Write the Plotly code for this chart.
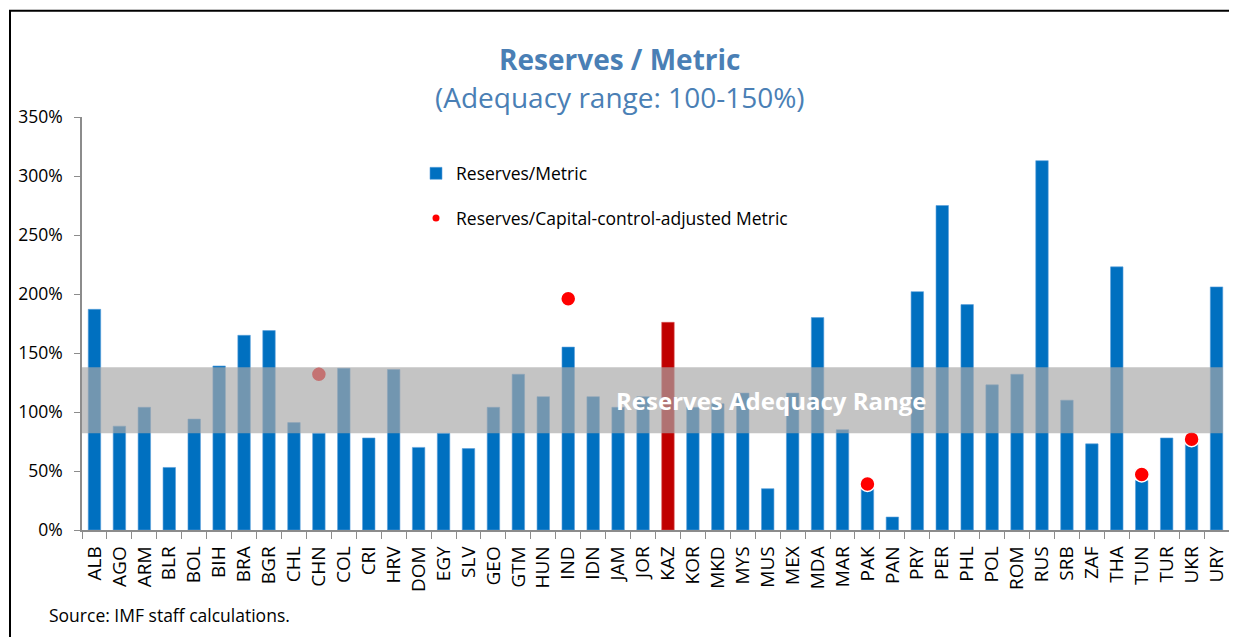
import plotly.graph_objects as go

countries = ["ALB", "AGO", "ARM", "BLR", "BOL", "BIH", "BRA", "BGR", "CHL", "CHN",
             "COL", "CRI", "HRV", "DOM", "EGY", "SLV", "GEO", "GTM", "HUN", "IND",
             "IDN", "JAM", "JOR", "KAZ", "KOR", "MKD", "MYS", "MUS", "MEX", "MDA",
             "MAR", "PAK", "PAN", "PRY", "PER", "PHL", "POL", "ROM", "RUS", "SRB",
             "ZAF", "THA", "TUN", "TUR", "UKR", "URY"]
reserves_metric = [187, 88, 104, 53, 94, 139, 165, 169, 91, 82,
                   137, 78, 136, 70, 82, 69, 104, 132, 113, 155,
                   113, 104, 113, 176, 104, 107, 116, 35, 116, 180,
                   85, 35, 11, 202, 275, 191, 123, 132, 313, 110,
                   73, 223, 42, 78, 74, 206]
adj_countries = ["CHN", "IND", "PAK", "TUN", "UKR"]
adj_values = [132, 196, 39, 47, 77]
highlight = "KAZ"
band_low, band_high = 82, 138

# the page body adds an 8px margin; work in page pixels and subtract it
OFF = 8
W, H = 1237 - OFF, 637 - OFF
L, R, T, B = 82 - OFF, W - (1229 - OFF), 116.5 - OFF, H - (530 - OFF)
PW, PH = W - L - R, H - T - B


def px_x(p):
    return (p - OFF - L) / PW


def px_y(p):
    return (H - B - (p - OFF)) / PH


bar_colors = ["#c00000" if c == highlight else "#0070c0" for c in countries]
edge_colors = ["#d85050" if c == highlight else "#5aa0dc" for c in countries]

fig = go.Figure()
fig.add_trace(go.Bar(
    x=countries, y=reserves_metric, name="Reserves/Metric",
    marker=dict(color=bar_colors, line=dict(color=edge_colors, width=0.6)),
    legendgroup="a",
))
fig.add_trace(go.Scatter(
    x=adj_countries, y=adj_values, mode="markers",
    name="Reserves/Capital-control-adjusted Metric",
    marker=dict(color="#ff0000", size=15, line=dict(color="white", width=1.5)),
    legendgroup="b", showlegend=False,
))
# legend proxy with the small legend dot
fig.add_trace(go.Scatter(
    x=[adj_countries[0]], y=[None], mode="markers",
    name="Reserves/Capital-control-adjusted Metric",
    marker=dict(color="#ff0000", size=7), legendgroup="b",
))

fig.add_shape(type="rect", xref="paper", yref="y", x0=0, x1=px_x(1223),
              y0=band_low, y1=band_high, fillcolor="rgba(168,168,168,0.68)",
              line=dict(width=0), layer="above")
fig.add_annotation(xref="paper", yref="y", x=px_x(771), y=110,
                   text="<b>Reserves Adequacy Range</b>", showarrow=False,
                   font=dict(size=24, color="white", family="Open Sans"))

# outer border
fig.add_shape(type="rect", xref="paper", yref="paper",
              x0=px_x(10), x1=px_x(1250), y0=px_y(650), y1=px_y(10),
              line=dict(color="black", width=2), layer="below")

fig.add_annotation(xref="paper", yref="paper", x=px_x(619), y=px_y(58),
                   text="<b>Reserves / Metric</b>", showarrow=False,
                   font=dict(size=28, color="#4a7fb5", family="Open Sans"),
                   xanchor="center", yanchor="middle")
fig.add_annotation(xref="paper", yref="paper", x=px_x(620), y=px_y(96),
                   text="(Adequacy range: 100-150%)", showarrow=False,
                   font=dict(size=28, color="#4a7fb5", family="Open Sans"),
                   xanchor="center", yanchor="middle")
fig.add_annotation(xref="paper", yref="paper", x=px_x(47), y=px_y(615),
                   text="Source: IMF staff calculations.", showarrow=False,
                   font=dict(size=17.5, color="black", family="Open Sans"),
                   xanchor="left", yanchor="middle")

fig.update_layout(
    width=W, height=H,
    margin=dict(l=L, r=R, t=T, b=B, autoexpand=False),
    paper_bgcolor="white", plot_bgcolor="white",
    font=dict(family="Open Sans", color="black", size=17.5),
    bargap=0.5,
    showlegend=True,
    legend=dict(x=px_x(416), y=px_y(155), xanchor="left", yanchor="top",
                bgcolor="rgba(0,0,0,0)", font=dict(size=17.5), tracegroupgap=19),
    xaxis=dict(type="category", categoryorder="array", categoryarray=countries,
               range=[-0.5, len(countries) - 0.5],
               showline=True, linecolor="#8c8c8c", linewidth=1.5,
               ticks="outside", tickson="boundaries", ticklen=7, tickcolor="#8c8c8c",
               tickangle=-90, tickfont=dict(size=19), showgrid=False,
               ticklabelstandoff=7),
    yaxis=dict(range=[0, 350], dtick=50, ticksuffix="%", showline=True,
               linecolor="#8c8c8c", linewidth=1.5, ticks="outside", ticklen=6,
               tickcolor="#8c8c8c", showgrid=False, zeroline=False,
               tickfont=dict(size=17.5), ticklabelstandoff=8),
)

fig.write_html("out.html")
